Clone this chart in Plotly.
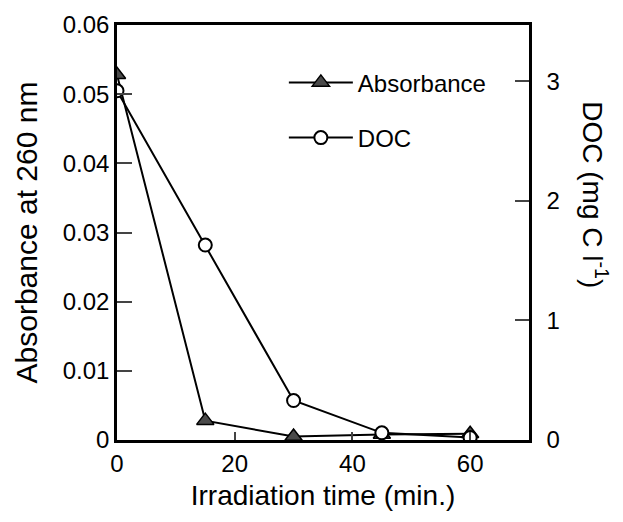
import plotly.graph_objects as go

time_min = [0, 15, 30, 45, 60]
absorbance = [0.0528, 0.0028, 0.0005, 0.0008, 0.0009]
doc = [2.92, 1.63, 0.33, 0.06, 0.02]

x_ticks = [0, 20, 40, 60]
y1_ticks = [0, 0.01, 0.02, 0.03, 0.04, 0.05, 0.06]
y1_labels = ["0", "0.01", "0.02", "0.03", "0.04", "0.05", "0.06"]
y2_ticks = [0, 1, 2, 3]

FONT = "Liberation Sans, Arial, sans-serif"

fig = go.Figure()
fig.add_trace(go.Scatter(
    x=time_min, y=absorbance, name="Absorbance", mode="lines+markers",
    line=dict(color="black", width=2),
    marker=dict(symbol="triangle-up", size=15, color="#4a4a4a",
                line=dict(color="black", width=1.5)),
    legendgroup="a", yaxis="y"))
fig.add_trace(go.Scatter(
    x=time_min, y=doc, name="DOC", mode="lines+markers",
    line=dict(color="black", width=2),
    marker=dict(symbol="circle", size=13, color="white",
                line=dict(color="black", width=2)),
    legendgroup="b", yaxis="y2"))

fig.update_layout(
    width=615, height=514,
    margin=dict(l=109, r=94, t=17, b=82, autoexpand=False),
    paper_bgcolor="white", plot_bgcolor="white",
    font=dict(family=FONT, size=24, color="black"),
    showlegend=True,
    legend=dict(x=0.405, y=0.915, xanchor="left", yanchor="top",
                bgcolor="rgba(0,0,0,0)", font=dict(size=24),
                traceorder="grouped", tracegroupgap=21, itemwidth=64),
    xaxis=dict(range=[0, 70], tickvals=x_ticks, ticks="inside", ticklen=8,
               tickwidth=1.5, showline=True, linecolor="black", linewidth=2.5,
               mirror=True, showgrid=False, zeroline=False, automargin=False,
               title=dict(text="Irradiation time (min.)", font=dict(size=28), standoff=10),
               tickfont=dict(size=24)),
    yaxis=dict(range=[0, 0.06], tickvals=y1_ticks, ticktext=y1_labels,
               ticks="inside", ticklen=15, tickwidth=2, showline=True,
               linecolor="black", linewidth=2.5, showgrid=False, zeroline=False,
               automargin=False,
               title=dict(text="Absorbance at 260 nm", font=dict(size=30), standoff=17),
               tickfont=dict(size=24)),
    yaxis2=dict(range=[0, 3.47], tickvals=y2_ticks, overlaying="y", side="right",
                ticks="inside", ticklen=14, tickwidth=2, showline=True,
                linecolor="black", linewidth=2.5, showgrid=False, zeroline=False,
                automargin=False, tickfont=dict(size=24), ticklabelstandoff=10),
    annotations=[dict(text="DOC (mg C l<sup>-1</sup>)", xref="paper", yref="paper",
                      x=1.16, y=0.59, textangle=90, showarrow=False,
                      xanchor="center", yanchor="middle", font=dict(size=28))],
)

fig.write_html("out.html")
